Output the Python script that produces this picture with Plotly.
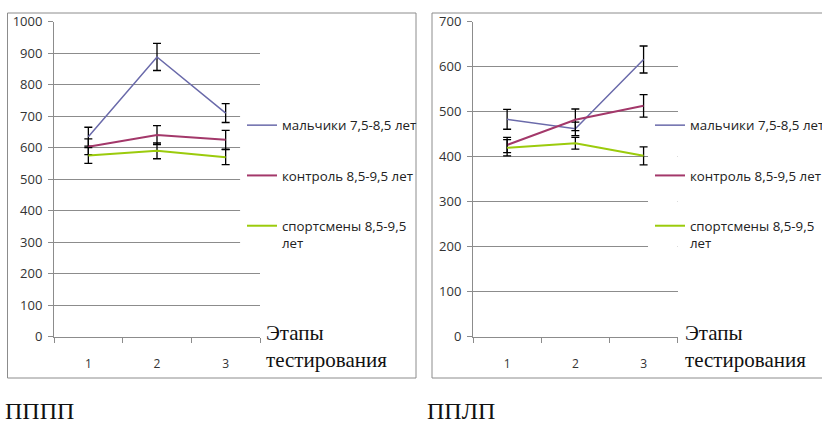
import plotly.graph_objects as go

W, H = 822, 425

stages = ["1", "2", "3"]
series_names = ["мальчики 7,5-8,5 лет", "контроль 8,5-9,5 лет", "спортсмены 8,5-9,5<br>лет"]

# Left chart (ПППП)
left_boys = [635, 888, 710]
left_boys_err = [30, 43, 30]
left_control = [603, 640, 625]
left_control_err = [25, 30, 30]
left_sport = [575, 590, 570]
left_sport_err = [25, 25, 24]

# Right chart (ППЛП)
right_boys = [483, 462, 616]
right_boys_err = [22, 15, 30]
right_control = [426, 482, 513]
right_control_err = [17, 24, 25]
right_sport = [420, 430, 402]
right_sport_err = [18, 13, 20]

colors = ["#6A6AAA", "#A3386A", "#9BCB0C"]
widths = [1.5, 2, 2]

def px(x):
    return x / W

def py(y):
    return 1 - y / H

fig = go.Figure()

left_sets = [(left_boys, left_boys_err), (left_control, left_control_err), (left_sport, left_sport_err)]
right_sets = [(right_boys, right_boys_err), (right_control, right_control_err), (right_sport, right_sport_err)]

for i, (vals, err) in enumerate(left_sets):
    fig.add_trace(go.Scatter(
        x=stages, y=vals, mode="lines", name=series_names[i],
        line=dict(color=colors[i], width=widths[i]),
        error_y=dict(type="data", array=err, color="black", thickness=1.3, width=4),
        xaxis="x", yaxis="y", legend="legend", legendgroup="l%d" % i,
    ))
for i, (vals, err) in enumerate(right_sets):
    fig.add_trace(go.Scatter(
        x=stages, y=vals, mode="lines", name=series_names[i],
        line=dict(color=colors[i], width=widths[i]),
        error_y=dict(type="data", array=err, color="black", thickness=1.3, width=4),
        xaxis="x2", yaxis="y2", legend="legend2", legendgroup="r%d" % i,
    ))

grid = "#8C8C8C"
tickfont = dict(family="Open Sans", size=13, color="#333333")

xcommon = dict(type="category", tickson="boundaries", ticks="outside", ticklen=5, range=[-0.5, 2.5],
               tickcolor=grid, showline=True, linecolor=grid, linewidth=1,
               showgrid=False, tickfont=dict(family="Open Sans", size=12, color="#333333"),
               ticklabelstandoff=16, fixedrange=True)
ycommon = dict(ticks="outside", ticklen=5, tickcolor=grid, showline=True, linecolor=grid,
               linewidth=1, showgrid=True, gridcolor=grid, gridwidth=1, zeroline=False,
               tickfont=tickfont, dtick=100, fixedrange=True, ticklabelstandoff=3)

ydom = [py(336.7), py(21.7)]

legcommon = dict(bgcolor="rgba(0,0,0,0)", borderwidth=0,
                 font=dict(family="Open Sans", size=13.3, color="#222222"),
                 tracegroupgap=30, valign="top", xanchor="left", yanchor="top", traceorder="grouped")

fig.update_layout(
    width=W, height=H, margin=dict(l=0, r=0, t=0, b=0, autoexpand=False),
    paper_bgcolor="white", plot_bgcolor="white",
    xaxis=dict(domain=[px(54), px(260)], anchor="y", **xcommon),
    yaxis=dict(domain=ydom, range=[0, 1000], anchor="x", **ycommon),
    xaxis2=dict(domain=[px(473), px(677.7)], anchor="y2", **xcommon),
    yaxis2=dict(domain=ydom, range=[0, 700], anchor="x2", **ycommon),
    legend=dict(x=px(242), y=py(110), **legcommon),
    legend2=dict(x=px(650), y=py(110), **legcommon),
    showlegend=True,
)

# White legend backdrop covering gridlines (between gridlines and traces)
fig.add_shape(type="rect", xref="x", yref="y", x0=2.21, x1=2.52, y0=237, y1=735,
              fillcolor="white", line=dict(width=0), layer="between")
fig.add_shape(type="rect", xref="x2", yref="y2", x0=2.065, x1=2.52, y0=166, y1=490,
              fillcolor="white", line=dict(width=0), layer="between")

# Chart frames
frame = dict(type="rect", xref="paper", yref="paper", line=dict(color="#8C8C8C", width=1),
             fillcolor="rgba(0,0,0,0)", layer="above")
fig.add_shape(x0=px(7.5), x1=px(416), y0=py(378), y1=py(13), **frame)
fig.add_shape(x0=px(432), x1=px(830), y0=py(378), y1=py(13), **frame)

serif = "Liberation Serif, Times New Roman, serif"
for xl in (264, 683):
    fig.add_annotation(x=px(xl), y=py(346), xref="paper", yref="paper", xanchor="left", yanchor="middle",
                       text="Этапы<br>тестирования", showarrow=False, align="left",
                       font=dict(family=serif, size=21, color="#111111"))

fig.add_annotation(x=px(3), y=py(411), xref="paper", yref="paper", xanchor="left", yanchor="middle",
                   text="ПППП", showarrow=False, font=dict(family=serif, size=24, color="#111111"))
fig.add_annotation(x=px(425), y=py(411), xref="paper", yref="paper", xanchor="left", yanchor="middle",
                   text="ППЛП", showarrow=False, font=dict(family=serif, size=24, color="#111111"))

fig.write_html("out.html")
